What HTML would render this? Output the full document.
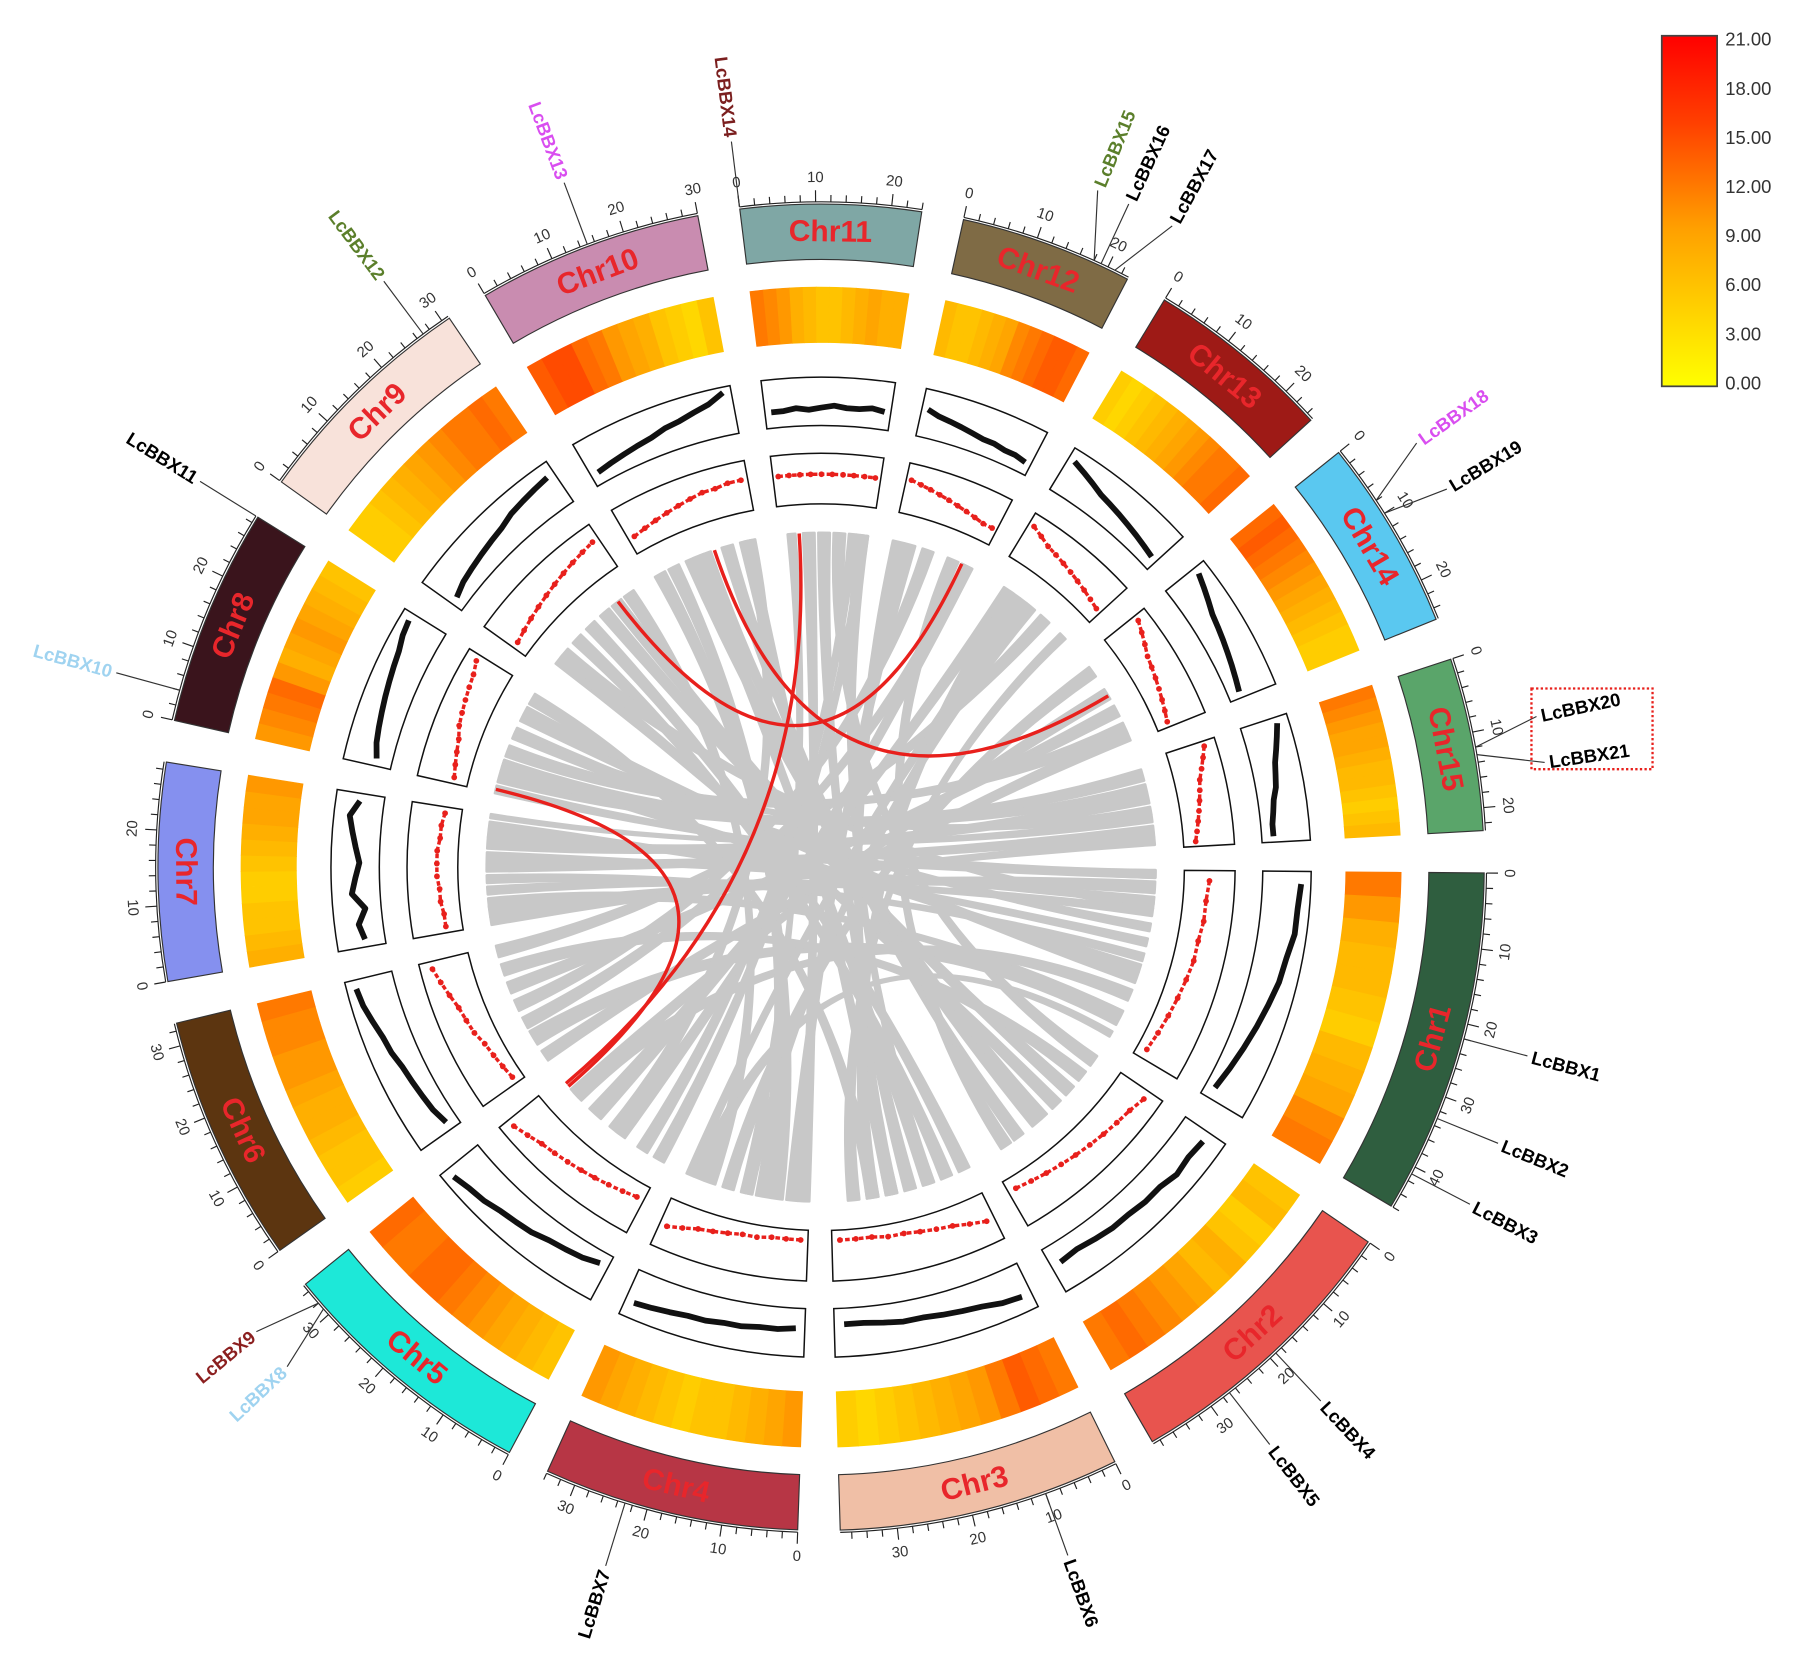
<!DOCTYPE html>
<html><head><meta charset="utf-8"><style>
html,body{margin:0;padding:0;background:#fff;}
svg{display:block;font-family:"Liberation Sans",sans-serif;}
</style></head><body>
<svg id="chart" width="1799" height="1671" viewBox="0 0 1560 1449" xmlns="http://www.w3.org/2000/svg">
<defs><linearGradient id="lg" x1="0" y1="1" x2="0" y2="0">
<stop offset="0" stop-color="#ffff00"/><stop offset="0.45" stop-color="#ffa000"/><stop offset="0.75" stop-color="#ff4000"/><stop offset="1" stop-color="#ff0000"/></linearGradient></defs>
</svg>
<script>
const chrNames=["Chr1","Chr2","Chr3","Chr4","Chr5","Chr6","Chr7","Chr8","Chr9","Chr10","Chr11","Chr12","Chr13","Chr14","Chr15"];
const chrLens=[46,39,37.5,34,35,33,29,29,31,30,24,23,25,25.5,23];
const chrColors=["#2f5e3f","#e8544e","#f0bfa6","#b73645","#1de8d8","#5c3510","#8590ef","#3a141c","#f8e2da","#c98cb0","#7fa7a5","#7f6b45","#9e1a16","#5ac8f0","#5aa56a"];
const heatVals=[
[12,10,8,7,7,6,5,7,8,9,11,12],[6,7,5,6,8,7,9,10,11,12,13,12],[12,13,14,12,10,9,8,7,6,5,4,5],
[10,9,8,7,6,6,5,6,7,8,9,10],[6,7,8,9,10,11,12,13,13,12,12,13],[5,6,6,7,8,8,9,10,10,11,11,12],
[8,7,6,6,5,5,6,7,8,9,9,10],[10,11,12,13,10,8,9,10,9,8,7,6],[5,5,6,7,8,9,10,11,12,12,13,12],
[14,15,15,13,12,10,9,8,6,5,4,6],[12,11,10,8,7,6,6,7,8,9,8,8],[7,6,6,7,8,9,11,12,13,14,14,13],
[5,4,5,6,7,8,9,10,11,12,12,13],[13,14,13,12,11,10,9,8,7,6,5,5],[12,11,10,9,9,8,7,7,6,5,6,7]];
const lineVals=[
[.85,.8,.8,.7,.65,.55,.45,.35,.25,.15],[.6,.55,.6,.5,.5,.45,.45,.4,.35,.4],[.7,.65,.55,.5,.45,.4,.4,.35,.3,.3],
[.4,.45,.45,.5,.5,.55,.55,.6,.65,.7],[.2,.3,.35,.4,.5,.55,.6,.7,.75,.85],[.2,.3,.35,.4,.45,.55,.6,.7,.8,.85],
[.4,.5,.3,.6,.5,.4,.5,.6,.7,.5],[.3,.4,.45,.5,.55,.6,.65,.7,.8,.85],[.2,.3,.35,.4,.45,.5,.6,.65,.7,.75],
[.2,.25,.3,.35,.4,.5,.55,.65,.75,.95],[.3,.3,.35,.3,.35,.4,.35,.35,.4,.35],[.6,.5,.45,.4,.35,.3,.3,.25,.25,.2],
[.8,.7,.6,.5,.45,.4,.35,.3,.25,.2],[.8,.7,.6,.5,.45,.4,.35,.3,.25,.2],[.8,.7,.6,.5,.45,.4,.3,.25,.2,.2]];
const scatVals=[
[.5,.45,.45,.4,.4,.35,.3,.25,.2,.15],[.7,.6,.55,.5,.45,.4,.35,.3,.25,.2],[.55,.45,.35,.3,.25,.2,.2,.15,.15,.15],
[.15,.15,.15,.2,.2,.25,.3,.35,.45,.55],[.25,.3,.35,.4,.45,.5,.55,.6,.7,.8],[.15,.2,.25,.3,.4,.45,.5,.6,.7,.8],
[.3,.3,.35,.35,.4,.4,.4,.35,.35,.3],[.25,.3,.35,.4,.5,.55,.6,.65,.7,.8],[.25,.3,.35,.4,.45,.5,.55,.6,.65,.7],
[.3,.35,.4,.45,.5,.55,.6,.6,.65,.65],[.6,.6,.6,.6,.6,.6,.6,.6,.6,.6],[.7,.65,.6,.55,.5,.45,.4,.35,.3,.3],
[.8,.7,.6,.55,.5,.45,.4,.35,.3,.25],[.8,.7,.6,.5,.45,.4,.35,.3,.25,.2],[.8,.7,.6,.5,.45,.4,.35,.3,.25,.2]];
const grayLinks=[
[6,2,5,0,3,6],[6,8,10,0,10,12],[6,14,17,14,17,20],[6,20,23,14,8,11],[6,25,27,0,18,20],[7,3,6,14,2,5],
[7,10,13,13,20,23],[7,20,24,0,27,30],[7,25,28,2,25,28],[5,5,9,0,38,42],[5,15,18,11,8,11],[5,25,28,1,5,8],
[5,30,33,12,15,18],[4,5,8,10,18,20],[4,20,24,12,3,6],[3,3,6,11,3,6],[3,10,14,9,5,8],[3,20,23,13,3,6],
[3,28,31,0,44,45.5],[2,5,8,8,10,13],[2,15,18,10,10,13],[2,30,33,12,22,24],[1,15,18,8,3,6],[1,28,31,9,20,23],
[1,32,35,11,15,18],[8,5,8,0,8,10],[9,10,13,1,22,25],[9,25,28,2,20,23],[10,2,4,3,16,18],[10,20,23,2,10,12],
[11,19,22,4,12,15],[12,8,11,3,31,33],[13,15,18,5,20,23],[14,14,16,6,28,29],[0,14,16,7,15,18],[0,32,35,4,27,30],
[8,20,23,1,10,13],[6,11,13,0,22,24],[7,15,17,14,12,14],
[6,0,2,14,20,22],[6,17,19,0,7,9],[7,0,2,0,0,2],[7,7,9,14,6,8],[5,0,3,13,22,25],[5,10,13,11,19,22],
[4,0,3,10,21,23],[4,14,17,9,26,29],[3,0,3,10,6,9],[3,7,10,9,1,4],[3,15,17,12,10,13],[2,0,3,8,15,18],
[2,10,13,9,12,15],[2,20,23,11,0,3],[2,25,28,12,5,8],[1,0,3,10,14,17],[1,10,13,8,24,27],[1,20,22,9,14,17],
[0,0,2,6,23,25],[0,25,27,7,6,9],[0,38,40,6,4,7],[4,28,31,13,10,13],[3,25,28,8,28,31]];
const redLinks=[[10,5,4,33],[7,1,4,32],[8,26,11,19],[9,18,13,12]];
const geneNames=["LcBBX1","LcBBX2","LcBBX3","LcBBX4","LcBBX5","LcBBX6","LcBBX7","LcBBX8","LcBBX9","LcBBX10","LcBBX11","LcBBX12","LcBBX13","LcBBX14","LcBBX15","LcBBX16","LcBBX17","LcBBX18","LcBBX19","LcBBX20","LcBBX21"];
const geneChr=[0,0,0,1,1,2,3,4,4,7,7,8,9,10,11,11,11,13,13,14,14];
const genePos=[22,33,41,19,27,10,23,31,32,4,29,27,15,0,18,19,21,8,10,12,13];
const geneColors=["#000","#000","#000","#000","#000","#000","#000","#9fd3f0","#8b1f1f","#9fd3f0","#000","#5b7f2b","#d94ef0","#7b1f1f","#5b7f2b","#000","#000","#d94ef0","#000","#000","#000"];
const geneShift=[0,0,0,0,0,0,0,-1.5,1.5,0,0,0,0,0,-2,0,2.5,-2,1,-1.5,1.5];
const legendTicks=["21.00","18.00","15.00","12.00","9.00","6.00","3.00","0.00"];

const svg=document.getElementById('chart');
const NS="http://www.w3.org/2000/svg";
const cx=712,cy=752,GAP=3.67,START=90.5;
const total=chrLens.reduce((a,b)=>a+b,0);
const K=(360-15*GAP)/total;
const chrStart=[];let acc=START;
chrLens.forEach(l=>{chrStart.push(acc);acc+=l*K+GAP;});
function ang(i,p){return chrStart[i]+p*K;}
function P(r,a){const t=a*Math.PI/180;return [cx+r*Math.sin(t),cy-r*Math.cos(t)];}
function f(p){return p[0].toFixed(1)+","+p[1].toFixed(1);}
function sector(r1,r2,a1,a2){const L=(a2-a1)>180?1:0;
return "M"+f(P(r2,a1))+"A"+r2+","+r2+" 0 "+L+" 1 "+f(P(r2,a2))+"L"+f(P(r1,a2))+"A"+r1+","+r1+" 0 "+L+" 0 "+f(P(r1,a1))+"Z";}
function mk(tag,attrs,parent){const e=document.createElementNS(NS,tag);for(const k in attrs)e.setAttribute(k,attrs[k]);(parent||svg).appendChild(e);return e;}
function tangRot(a){a=((a%360)+360)%360;return (a>90&&a<270)?a-180:a;}
function heatColor(v){const t=Math.max(0,Math.min(1,v/21));
const st=[[0,[255,255,0]],[0.45,[255,160,0]],[0.75,[255,64,0]],[1,[255,0,0]]];
for(let i=1;i<st.length;i++){if(t<=st[i][0]){const u=(t-st[i-1][0])/(st[i][0]-st[i-1][0]);const c=st[i-1][1].map((x,j)=>Math.round(x+(st[i][1][j]-x)*u));return "rgb("+c.join(",")+")";}}return "rgb(255,0,0)";}

const RL=290;
const linkG=mk('g',{});


grayLinks.forEach(l=>{
 const a1=ang(l[0],l[1]),a2=ang(l[0],l[2]),b1=ang(l[3],l[4]),b2=ang(l[3],l[5]);
 const d="M"+f(P(RL,a1))+"A"+RL+","+RL+" 0 0 1 "+f(P(RL,a2))+"Q"+cx+","+cy+" "+f(P(RL,b1))+"A"+RL+","+RL+" 0 0 1 "+f(P(RL,b2))+"Q"+cx+","+cy+" "+f(P(RL,a1))+"Z";
 const e=mk('path',{d:d,fill:"#c8c8c8",stroke:"#c8c8c8","stroke-width":2.2,"stroke-linejoin":"round"},linkG);
 
 
});
redLinks.forEach(l=>{
 const a=ang(l[0],l[1]),b=ang(l[2],l[3]);
 const e=mk('path',{d:"M"+f(P(RL,a))+"Q"+cx+","+cy+" "+f(P(RL,b)),fill:"none",stroke:"#e8201c","stroke-width":3},linkG);
 
 
});

chrNames.forEach((nm,i)=>{
 const a1=chrStart[i],a2=ang(i,chrLens[i]),am=(a1+a2)/2;
 const g=mk('g',{});
 
 
 const ideo=mk('path',{d:sector(527,575,a1,a2),fill:chrColors[i],stroke:"#333","stroke-width":1},g);
 
 
 const lp=P(551,am);
 const lab=mk('text',{x:lp[0],y:lp[1],"text-anchor":"middle","dominant-baseline":"central","font-size":26,"font-weight":"bold",fill:"#e8262b",transform:"rotate("+tangRot(am)+" "+lp[0]+" "+lp[1]+")"},g);
 lab.textContent=nm;
 
 
 const base=mk('path',{d:"M"+f(P(577,a1))+"A577,577 0 0 1 "+f(P(577,a2)),fill:"none",stroke:"#222","stroke-width":1},g);
 
 
 for(let p=0;p<=chrLens[i];p+=2){
  const a=ang(i,p),big=p%10===0;
  const t=mk('line',{x1:P(577,a)[0],y1:P(577,a)[1],x2:P(big?587:583,a)[0],y2:P(big?587:583,a)[1],stroke:"#222","stroke-width":1},g);
  
  
  if(big){const q=P(598,a);
   const tl=mk('text',{x:q[0],y:q[1],"text-anchor":"middle","dominant-baseline":"central","font-size":13,fill:"#333",transform:"rotate("+tangRot(a)+" "+q[0]+" "+q[1]+")"},g);
   tl.textContent=p;
   
   }
 }
 const hv=heatVals[i],n=hv.length;
 hv.forEach((v,j)=>{
  const c=heatColor(v);
  const h=mk('path',{d:sector(455,503,ang(i,j*chrLens[i]/n),ang(i,(j+1)*chrLens[i]/n)),fill:c,stroke:c,"stroke-width":0.6},g);
  
  
 });
 const lb=mk('path',{d:sector(383,425,a1,a2),fill:"#fff",stroke:"#111","stroke-width":1.3},g);
 
 
 const lv=lineVals[i];
 const pts=lv.map((v,j)=>f(P(386+v*36,ang(i,(j+0.5)*chrLens[i]/lv.length)))).join(" ");
 const pl=mk('polyline',{points:pts,fill:"none",stroke:"#111","stroke-width":5,"stroke-linejoin":"round"},g);
 
 
 const sb=mk('path',{d:sector(315,359,a1,a2),fill:"#fff",stroke:"#111","stroke-width":1.3},g);
 
 
 const sv=scatVals[i];
 const spts=sv.map((v,j)=>f(P(318+v*38,ang(i,(j+0.5)*chrLens[i]/sv.length)))).join(" ");
 const sl=mk('polyline',{points:spts,fill:"none",stroke:"#e8201c","stroke-width":3,"stroke-dasharray":"4 2"},g);
 
 
 sv.forEach((v,j)=>{const q=P(318+v*38,ang(i,(j+0.5)*chrLens[i]/sv.length));
  const c=mk('circle',{cx:q[0],cy:q[1],r:2.5,fill:"#e8201c"},g);
  
  });
});

geneNames.forEach((nm,k)=>{
 const a=ang(geneChr[k],genePos[k]),al=a+geneShift[k];
 const p1=P(577,a),p2=P(634,al);
 const ln=mk('line',{x1:p1[0],y1:p1[1],x2:p2[0],y2:p2[1],stroke:"#333","stroke-width":1});
 
 
 const q=P(638,al);const aa=((al%360)+360)%360;
 const right=aa<180;
 const t=mk('text',{x:q[0],y:q[1],"text-anchor":right?"start":"end","dominant-baseline":"central","font-size":16,"font-weight":"bold",fill:geneColors[k],transform:"rotate("+(right?al-90:al+90)+" "+q[0]+" "+q[1]+")"});
 t.textContent=nm;
 
 
});
const box=mk('rect',{x:1328,y:597,width:105,height:70,fill:"none",stroke:"#e8201c","stroke-width":2,"stroke-dasharray":"2 2"});



const lg=mk('rect',{x:1441,y:31,width:48,height:304,fill:"url(#lg)",stroke:"#444","stroke-width":1.5});


legendTicks.forEach((s,j)=>{
 const y=34+j*(298/(legendTicks.length-1));
 const t=mk('text',{x:1496,y:y,"dominant-baseline":"central","font-size":16,fill:"#333"});
 t.textContent=s;
 
 
});
</script>
</body></html>
